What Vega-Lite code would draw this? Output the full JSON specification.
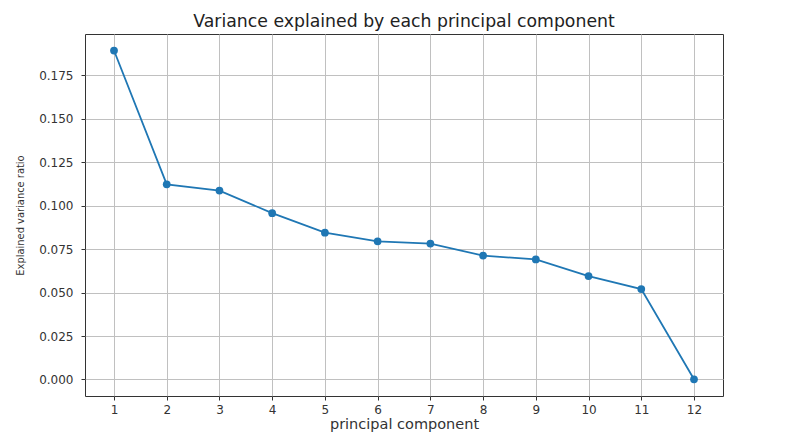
{
  "$schema": "https://vega.github.io/schema/vega-lite/v6.json",
  "autosize": {"type": "none"},
  "padding": {"left": 85, "top": 34, "right": 64, "bottom": 43},
  "width": 638,
  "height": 362,
  "background": "white",
  "title": {
    "text": "Variance explained by each principal component",
    "font": "DejaVu Sans",
    "fontSize": 17.3,
    "fontWeight": "normal",
    "color": "#222",
    "anchor": "middle",
    "offset": 4
  },
  "data": {
    "values": [
      {"pc": 1, "ratio": 0.1893},
      {"pc": 2, "ratio": 0.1123},
      {"pc": 3, "ratio": 0.1087},
      {"pc": 4, "ratio": 0.0957},
      {"pc": 5, "ratio": 0.0845},
      {"pc": 6, "ratio": 0.0795},
      {"pc": 7, "ratio": 0.0782},
      {"pc": 8, "ratio": 0.0713},
      {"pc": 9, "ratio": 0.0691},
      {"pc": 10, "ratio": 0.0595},
      {"pc": 11, "ratio": 0.052},
      {"pc": 12, "ratio": 0.0001}
    ]
  },
  "encoding": {
    "x": {
      "field": "pc",
      "type": "quantitative",
      "scale": {"domain": [0.45, 12.55], "nice": false, "zero": false},
      "axis": {
        "title": "principal component",
        "values": [1, 2, 3, 4, 5, 6, 7, 8, 9, 10, 11, 12],
        "format": "d",
        "titleFont": "DejaVu Sans",
        "titleFontSize": 14.5,
        "titleFontWeight": "normal",
        "titleColor": "#333",
        "titlePadding": 2,
        "labelFont": "DejaVu Sans",
        "labelFontSize": 12,
        "labelColor": "#333",
        "labelPadding": 4,
        "tickSize": 4,
        "tickColor": "#333",
        "domain": false,
        "gridColor": "#c0c0c0",
        "gridWidth": 1
      }
    },
    "y": {
      "field": "ratio",
      "type": "quantitative",
      "scale": {"domain": [-0.0095, 0.1988], "nice": false, "zero": false},
      "axis": {
        "title": "Explained variance ratio",
        "values": [0, 0.025, 0.05, 0.075, 0.1, 0.125, 0.15, 0.175],
        "format": ".3f",
        "titleFont": "DejaVu Sans Condensed, Liberation Sans, sans-serif",
        "titleFontSize": 11,
        "titleFontWeight": "normal",
        "titleColor": "#333",
        "titlePadding": 13,
        "labelFont": "DejaVu Sans",
        "labelFontSize": 12,
        "labelColor": "#333",
        "labelPadding": 8,
        "tickSize": 4,
        "tickColor": "#333",
        "domain": false,
        "gridColor": "#c0c0c0",
        "gridWidth": 1
      }
    }
  },
  "layer": [
    {"mark": {"type": "line", "color": "#1f77b4", "strokeWidth": 1.8}},
    {"mark": {"type": "point", "filled": true, "color": "#1f77b4", "opacity": 1, "size": 60}}
  ],
  "config": {
    "view": {"stroke": "#333", "strokeWidth": 1}
  }
}
